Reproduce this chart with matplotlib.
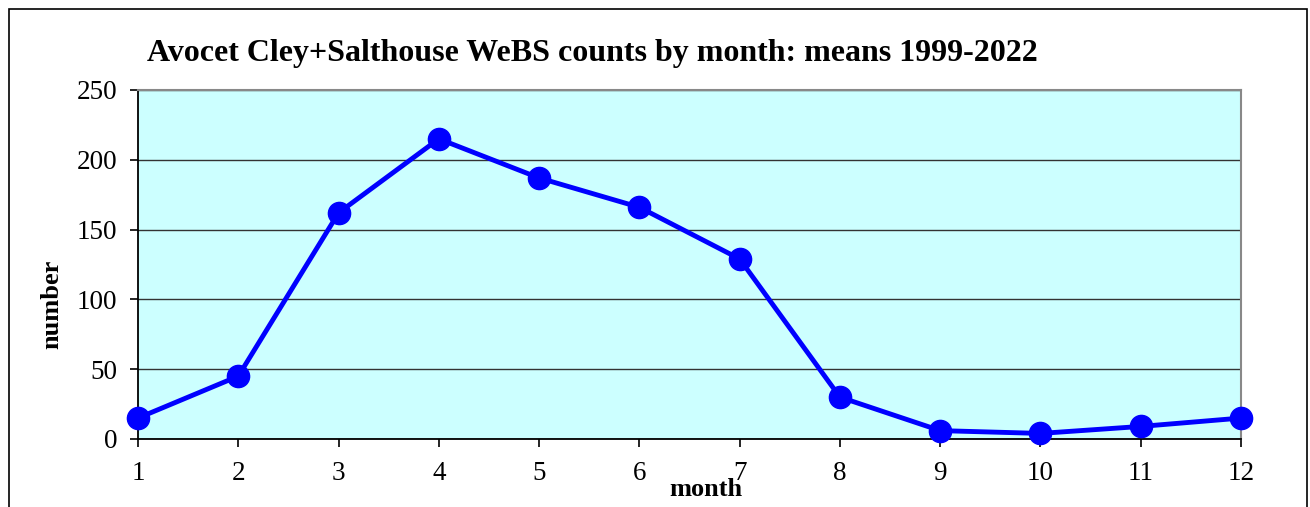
import matplotlib.pyplot as plt
from matplotlib.patches import Rectangle

# ----------------------------
# Data
# ----------------------------
months = [1, 2, 3, 4, 5, 6, 7, 8, 9, 10, 11, 12]
mean_counts = [15, 45, 162, 215, 187, 166, 129, 30, 6, 4, 9, 15]
y_ticks = [0, 50, 100, 150, 200, 250]

W, H = 1310, 507
plt.rcParams["font.family"] = ["Liberation Serif", "DejaVu Serif"]

fig = plt.figure(figsize=(W / 100, H / 100), dpi=100)

# outer frame (bottom edge runs off the picture)
fig.patches.append(Rectangle((9 / W, -0.05), (1307 - 9) / W, 1 - 9 / H + 0.05,
                             transform=fig.transFigure, fill=False,
                             edgecolor="black", linewidth=1.2))

left, right, top, bottom = 138, 1241, 90, 439
ax = fig.add_axes([left / W, 1 - bottom / H, (right - left) / W, (bottom - top) / H])
ax.set_facecolor("#CCFFFF")

ax.plot(months, mean_counts, color="#0000FF", linewidth=3.5,
        marker="o", markersize=16, clip_on=False, zorder=5)

ax.set_xlim(1, 12)
ax.set_ylim(0, 250)
ax.set_xticks(months)
ax.set_yticks(y_ticks)
ax.yaxis.grid(True, color="#333333", linewidth=1)
ax.set_axisbelow(True)

for side in ["left", "bottom"]:
    ax.spines[side].set_color("black")
    ax.spines[side].set_linewidth(1.3)
for side in ["top", "right"]:
    ax.spines[side].set_color("#888888")
    ax.spines[side].set_linewidth(1.5)

ax.tick_params(axis="both", direction="out", length=6, width=1.2,
               labelsize=19.5, colors="black")
ax.tick_params(axis="x", pad=10)
ax.tick_params(axis="y", pad=9)

fig.text(147 / W, 1 - 53 / H, "Avocet Cley+Salthouse WeBS counts by month: means 1999-2022",
         fontsize=23, fontweight="bold", ha="left", va="center")
# the reference's axis title also sits against the "7" label
fig.text(706 / W, 1 - 489 / H, "month", fontsize=19, fontweight="bold",
         ha="center", va="center")
fig.text(52 / W, 1 - 304 / H, "number", fontsize=19, fontweight="bold",
         rotation=90, ha="center", va="center")

fig.savefig("out.png", dpi=100)
